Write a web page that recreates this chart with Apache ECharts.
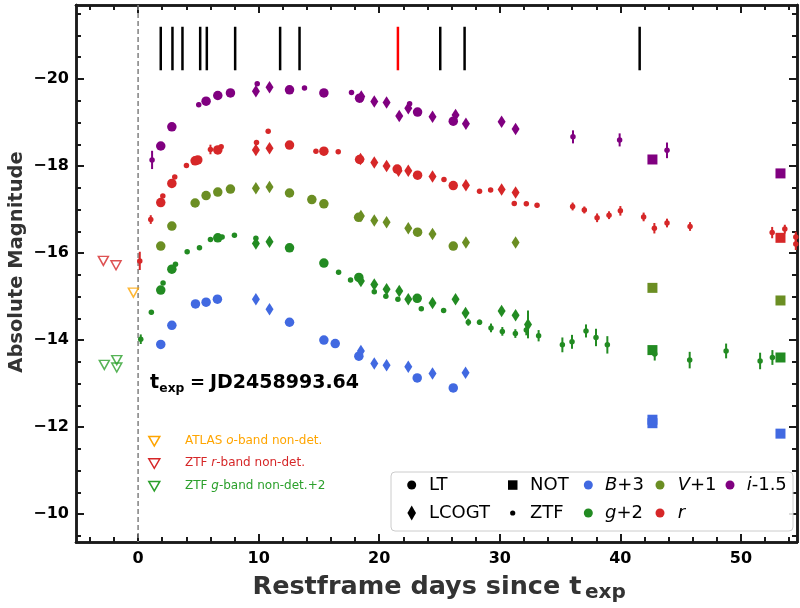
<!DOCTYPE html>
<html>
<head>
<meta charset="utf-8">
<script src="https://cdn.jsdelivr.net/npm/echarts@6/dist/echarts.min.js"></script>
<style>html,body{margin:0;padding:0;background:#fff}#c{width:800px;height:608px}</style>
</head>
<body>
<div id="c"></div>
<script>
// ---------------- DATA (restframe days, absolute magnitude, [error]) ----------------
const xTickLabels = [0, 10, 20, 30, 40, 50];
const yTickLabels = [-20, -18, -16, -14, -12, -10];

const B_LT = [[1.88,-13.90],[2.80,-14.34],[4.76,-14.83],[5.64,-14.87],[6.58,-14.94],[12.56,-14.41],[15.41,-14.00],[16.35,-13.92],[18.31,-13.63],[23.15,-13.13],[26.14,-12.90]];
const B_LCOGT = [[9.77,-14.94],[10.90,-14.71],[18.48,-13.75],[19.59,-13.46],[20.61,-13.42],[22.41,-13.39],[24.42,-13.23],[27.16,-13.25]];
const B_NOT = [[42.66,-12.09],[42.66,-12.17],[53.28,-11.85]];

const g_LT = [[1.88,-15.15],[2.80,-15.63],[6.61,-16.35],[12.56,-16.12],[15.41,-15.77],[18.31,-15.44],[23.15,-14.96]];
const g_LCOGT = [[9.77,-16.22],[10.90,-16.26],[18.48,-15.36],[19.59,-15.28],[20.61,-15.17],[21.66,-15.13],[22.41,-14.94],[24.42,-14.85],[26.33,-14.94],[27.16,-14.62],[30.15,-14.67],[31.31,-14.57],[32.34,-14.36,0.32]];
const g_ZTF = [[0.22,-14.02,0.11],[1.10,-14.64,0.05],[2.07,-15.31],[3.10,-15.74],[4.07,-16.03],[5.09,-16.12],[6.00,-16.31],[6.97,-16.37],[7.99,-16.41],[9.77,-16.34],[16.63,-15.56],[17.62,-15.38],[19.59,-15.11],[20.55,-15.01],[21.55,-14.94],[23.49,-14.72],[25.34,-14.68],[27.39,-14.41,0.08],[28.32,-14.41,0.06],[29.27,-14.28,0.1],[30.21,-14.20,0.1],[31.29,-14.15,0.1],[32.20,-14.23,0.12],[33.22,-14.10,0.13],[35.19,-13.89,0.17],[35.99,-13.96,0.16],[37.15,-14.21,0.15],[37.98,-14.06,0.2],[38.92,-13.89,0.2],[42.85,-13.68,0.15],[45.75,-13.54,0.19],[48.77,-13.75,0.17],[51.59,-13.52,0.19],[52.61,-13.60,0.17]];
const g_NOT = [[42.66,-13.77],[53.28,-13.60]];

const V_LT = [[1.88,-16.16],[2.80,-16.62],[4.73,-17.15],[5.64,-17.32],[6.61,-17.40],[7.66,-17.47],[12.56,-17.38],[14.41,-17.23],[15.41,-17.13],[18.29,-16.82],[23.18,-16.48],[26.14,-16.16]];
const V_LCOGT = [[9.77,-17.49],[10.90,-17.52],[18.48,-16.85],[19.59,-16.75],[20.61,-16.71],[22.41,-16.57],[24.42,-16.44],[27.19,-16.24],[31.31,-16.24]];
const V_NOT = [[42.66,-15.20],[53.28,-14.91]];

const r_LT = [[1.88,-17.16],[2.80,-17.60],[4.73,-18.12],[4.95,-18.14],[6.61,-18.37],[12.56,-18.48],[15.41,-18.34],[18.37,-18.15],[21.49,-17.93],[23.18,-17.79],[26.14,-17.55]];
const r_LCOGT = [[9.77,-18.37],[10.90,-18.41],[18.45,-18.16],[19.59,-18.08],[20.61,-18.00],[21.60,-17.89],[22.41,-17.89],[24.42,-17.76],[27.19,-17.56],[30.15,-17.46],[31.31,-17.39]];
const r_ZTF = [[0.14,-15.82,0.21],[1.05,-16.77,0.1],[2.05,-17.31],[3.04,-17.75],[4.01,-18.01],[6.00,-18.38,0.11],[6.89,-18.44],[9.82,-18.54],[10.79,-18.80],[14.75,-18.34],[16.60,-18.33],[25.37,-17.69],[28.32,-17.42],[29.24,-17.45],[31.20,-17.14,0.05],[32.20,-17.13,0.05],[33.09,-17.10,0.05],[36.04,-17.07,0.09],[37.01,-16.99,0.08],[38.07,-16.81,0.1],[39.06,-16.87,0.09],[40.00,-16.97,0.11],[41.93,-16.83,0.1],[42.82,-16.57,0.12],[43.87,-16.69,0.1],[45.78,-16.61,0.1],[52.59,-16.47,0.13],[53.64,-16.55,0.1],[54.55,-16.37,0.12],[54.55,-16.21,0.14]];
const r_NOT = [[53.28,-16.35]];

const i_LT = [[1.88,-18.46],[2.80,-18.90],[5.64,-19.49],[6.61,-19.62],[7.66,-19.68],[12.56,-19.75],[15.41,-19.68],[18.37,-19.56],[23.18,-19.24],[26.14,-19.03]];
const i_LCOGT = [[9.77,-19.72],[10.90,-19.81],[18.51,-19.60],[19.59,-19.48],[20.61,-19.46],[21.66,-19.15],[22.41,-19.33],[24.42,-19.13],[26.33,-19.17],[27.19,-18.97],[30.15,-19.02],[31.31,-18.85]];
const i_ZTF = [[1.16,-18.14,0.21],[5.03,-19.41,0.05],[9.88,-19.89],[13.80,-19.79],[17.70,-19.69],[22.52,-19.43],[36.07,-18.67,0.15],[39.94,-18.60,0.15],[43.87,-18.36,0.18]];
const i_NOT = [[42.66,-18.15],[53.28,-17.83]];

const atlasO_nondet = [[-0.39,-15.09]];
const ztfR_nondet = [[-2.88,-15.82],[-1.83,-15.72]];
const ztfG_nondet = [[-2.80,-13.43],[-1.77,-13.54],[-1.77,-13.37]];

const spectraBlack = [1.88,2.85,3.68,5.15,5.70,8.05,11.78,13.39,25.06,27.08,41.6];
const spectraRed = [21.55];
const spectraRange = [-21.2, -20.2];
const texpDay = 0;

// ---------------- STYLE ----------------
const XMIN = -5.15, XMAX = 54.65, YMIN = -21.7, YMAX = -9.36;
const COL = {B:'#4169E1', g:'#228B22', V:'#6B8E23', r:'#d62728', i:'#800080'};
const FONT = 'DejaVu Sans';
const AX = '#1a1a1a';

function range(a, b, s){ const o=[]; for(let v=a; v<=b+1e-9; v+=s) o.push(Math.round(v*100)/100); return o; }
const xMajor = xTickLabels;
const xMinor = range(-4, 54, 2).filter(v => v % 10 !== 0);
const yMajor = yTickLabels;
const yMinor = range(-21.5, -9.5, 0.5).filter(v => Math.abs(v % 2) > 1e-6);

function xAx(pos, ticks, len, labels){
  return {type:'value', min:XMIN, max:XMAX, position:pos,
    axisLine:{show:true, onZero:false, lineStyle:{color:AX, width:2.5}},
    axisTick:{show:true, inside:true, length:len, customValues:ticks, lineStyle:{color:AX, width:2}},
    axisLabel: labels ? {show:true, customValues:xMajor, fontFamily:FONT, fontWeight:'bold', fontSize:16, color:'#000', margin:9} : {show:false},
    splitLine:{show:false}};
}
function yAx(pos, ticks, len, labels){
  return {type:'value', min:YMIN, max:YMAX, inverse:true, position:pos,
    axisLine:{show:true, onZero:false, lineStyle:{color:AX, width:2.5}},
    axisTick:{show:true, inside:true, length:len, customValues:ticks, lineStyle:{color:AX, width:2}},
    axisLabel: labels ? {show:true, customValues:yMajor, fontFamily:FONT, fontWeight:'bold', fontSize:16, color:'#000', margin:7,
        formatter: v => (v<0?'\u2212':'') + Math.abs(v)} : {show:false},
    splitLine:{show:false}};
}

function sc(data, color, symbol, size, z){
  return {type:'scatter', data:data.map(d=>[d[0],d[1]]), symbol:symbol, symbolSize:size,
    itemStyle:{color:color, opacity:1}, z:z||3, silent:true, clip:true, animation:false};
}
function err(data, color){
  return {type:'custom', data:data.filter(d=>d[2]).map(d=>[d[0],d[1],d[2]]), z:2, silent:true, clip:true,
    renderItem:function(p, api){
      const x=api.value(0), y=api.value(1), e=api.value(2);
      const a=api.coord([x,y-e]), b=api.coord([x,y+e]);
      return {type:'line', shape:{x1:a[0],y1:a[1],x2:b[0],y2:b[1]}, style:{stroke:color, lineWidth:2}};
    }};
}
function vlines(days, color, y0, y1, w, dash){
  return {type:'custom', data:days.map(d=>[d]), z:1, silent:true, clip:true,
    renderItem:function(p, api){
      const x=api.value(0);
      const a=api.coord([x,y0]), b=api.coord([x,y1]);
      return {type:'line', shape:{x1:a[0],y1:a[1],x2:b[0],y2:b[1]}, style:{stroke:color, lineWidth:w, lineDash:dash||null}};
    }};
}
function nondet(data, color){
  return {type:'scatter', data:data, symbol:'triangle', symbolRotate:180, symbolSize:[10,9],
    itemStyle:{color:'rgba(255,255,255,0)', borderColor:color, borderWidth:1.5}, z:3, silent:true, clip:true};
}

const CIRC = 9.5, DIAM = [8,12.5], DOT = 5.5, SQ = 10;
const series = [
  vlines([texpDay], '#808080', YMIN, YMAX, 1.5, [5,3]),
  vlines(spectraBlack, '#000', spectraRange[0], spectraRange[1], 2.5),
  vlines(spectraRed, '#ff0000', spectraRange[0], spectraRange[1], 2.5),
  nondet(atlasO_nondet, '#FFA500'), nondet(ztfR_nondet, '#d62728'), nondet(ztfG_nondet, '#2ca02c'),
];
const bandsets = [
  ['B', B_LT, B_LCOGT, null, B_NOT],
  ['g', g_LT, g_LCOGT, g_ZTF, g_NOT],
  ['V', V_LT, V_LCOGT, null, V_NOT],
  ['r', r_LT, r_LCOGT, r_ZTF, r_NOT],
  ['i', i_LT, i_LCOGT, i_ZTF, i_NOT],
];
bandsets.forEach(([b, lt, lco, ztf, not]) => {
  const c = COL[b];
  series.push(err(lco, c));
  if (ztf) series.push(err(ztf, c));
  series.push(sc(lt, c, 'circle', CIRC, 3));
  series.push(sc(lco, c, 'diamond', DIAM, 3));
  if (ztf) series.push(sc(ztf, c, 'circle', DOT, 4));
  series.push(sc(not, c, 'rect', SQ, 3));
});

// legend + annotations
const G = [];
const Z = 100;
G.push({type:'rect', z:Z, shape:{x:391, y:472, width:402, height:59, r:4}, style:{fill:'rgba(255,255,255,0.85)', stroke:'#cccccc', lineWidth:1}});
G.push({type:'circle', z:Z+1, shape:{cx:411.7, cy:485, r:4.5}, style:{fill:'#000'}});
G.push({type:'polygon', z:Z+1, shape:{points:[[411.7,505.5],[416,513],[411.7,520.5],[407.4,513]]}, style:{fill:'#000'}});
G.push({type:'rect', z:Z+1, shape:{x:508, y:480.3, width:9.5, height:9.5}, style:{fill:'#000'}});
G.push({type:'circle', z:Z+1, shape:{cx:512.7, cy:513, r:2.6}, style:{fill:'#000'}});
G.push({type:'circle', z:Z+1, shape:{cx:588.3, cy:485, r:4.5}, style:{fill:COL.B}});
G.push({type:'circle', z:Z+1, shape:{cx:588.3, cy:513, r:4.5}, style:{fill:COL.g}});
G.push({type:'circle', z:Z+1, shape:{cx:660, cy:485, r:4.5}, style:{fill:COL.V}});
G.push({type:'circle', z:Z+1, shape:{cx:660, cy:513, r:4.5}, style:{fill:COL.r}});
G.push({type:'circle', z:Z+1, shape:{cx:730, cy:485, r:4.5}, style:{fill:COL.i}});
function lt(x, y, text){
  return {type:'text', z:Z+1, x:x, y:y, style:{text:text, fontFamily:FONT, fontSize:18, fill:'#000', align:'left', verticalAlign:'middle',
    rich:{it:{fontStyle:'italic', fontFamily:FONT, fontSize:18, fill:'#000'}}}};
}
G.push(lt(429,485,'LT'), lt(429,513,'LCOGT'), lt(530,485,'NOT'), lt(530,513,'ZTF'),
       lt(605,485,'{it|B}+3'), lt(605,513,'{it|g}+2'), lt(677.7,485,'{it|V}+1'), lt(677.7,513,'{it|r}'), lt(746.7,485,'{it|i}-1.5'));

function tri(cx, cy, color){
  return {type:'polygon', z:Z, shape:{points:[[cx-5.5,cy-4.5],[cx+5.5,cy-4.5],[cx,cy+5]]}, style:{fill:'none', stroke:color, lineWidth:1.5}};
}
function nt(x, y, text, color){
  return {type:'text', z:Z, x:x, y:y, style:{text:text, fontFamily:FONT, fontSize:12, fill:color, align:'left', verticalAlign:'middle',
    rich:{it:{fontStyle:'italic', fontFamily:FONT, fontSize:12, fill:color}}}};
}
G.push(tri(154.3,441,'#FFA500'), tri(154.3,463.3,'#d62728'), tri(154.3,486,'#2ca02c'));
G.push(nt(185,441,'ATLAS {it|o}-band non-det.','#FFA500'), nt(185,463.3,'ZTF {it|r}-band non-det.','#d62728'), nt(185,486,'ZTF {it|g}-band non-det.+2','#2ca02c'));

function bt(x, y, text, size, color, align){
  return {type:'text', z:Z, x:x, y:y, style:{text:text, fontFamily:FONT, fontWeight:'bold', fontSize:size, fill:color, align:align||'left', verticalAlign:'middle'}};
}
// t_exp annotation
G.push(bt(150,383.5,'t',19,'#000'), bt(159.3,389,'exp',12.3,'#000'), bt(197.5,383.5,'=',18,'#000','center'), bt(210,383.5,'JD2458993.64',19,'#000'));
// x title
G.push(bt(252.5,587.5,'Restframe days since t',25.5,'#333'), bt(585,592.5,'exp',20,'#333'));
// y title
G.push({type:'text', z:Z, x:17, y:262, rotation:Math.PI/2, style:{text:'Absolute Magnitude', fontFamily:FONT, fontWeight:'bold', fontSize:19.5, fill:'#333', align:'center', verticalAlign:'middle'}});

const option = {
  animation:false,
  backgroundColor:'#fff',
  grid:{left:76, right:3, top:5, bottom:66, containLabel:false},
  xAxis:[xAx('bottom', xMajor, 8, true), xAx('bottom', xMinor, 5, false), xAx('top', xMajor, 8, false), xAx('top', xMinor, 5, false)],
  yAxis:[yAx('left', yMajor, 8, true), yAx('left', yMinor, 5, false), yAx('right', yMajor, 8, false), yAx('right', yMinor, 5, false)],
  series:series,
  graphic:G
};
const chart = echarts.init(document.getElementById('c'), null, {renderer:'canvas'});
chart.setOption(option);
</script>
</body>
</html>
